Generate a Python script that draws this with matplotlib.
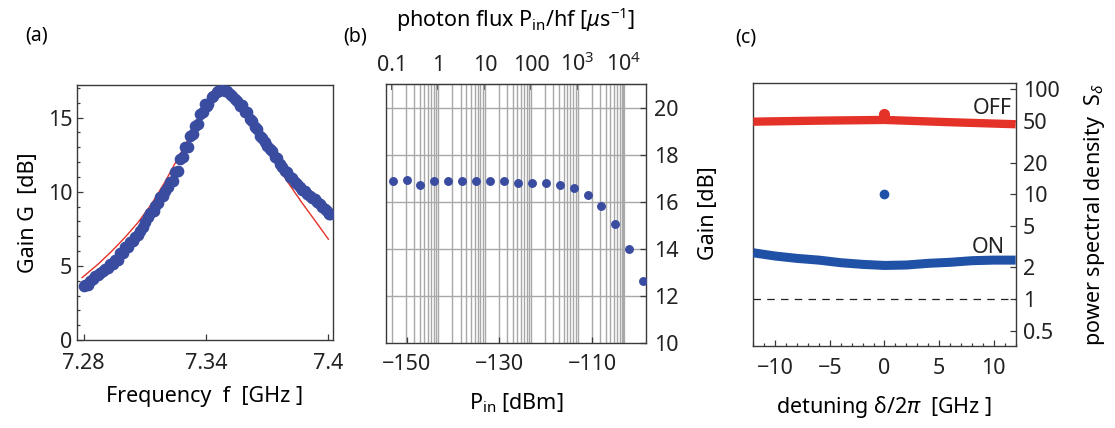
import numpy as np
import matplotlib
matplotlib.use("Agg")
import matplotlib.pyplot as plt
from matplotlib.ticker import FixedLocator, NullFormatter

plt.rcParams['font.family'] = ['Noto Sans', 'DejaVu Sans']
plt.rcParams['mathtext.fontset'] = 'custom'
plt.rcParams['mathtext.rm'] = 'Noto Sans'
plt.rcParams['mathtext.it'] = 'Noto Sans:italic'
plt.rcParams['axes.unicode_minus'] = True

# ---------------- data ----------------
# (a) gain vs frequency (read along the measured band)
freq_a = [7.2800, 7.2805, 7.2823, 7.2830, 7.2847, 7.2854, 7.2872, 7.2879, 7.2897, 7.2903,
          7.2921, 7.2928, 7.2946, 7.2952, 7.2970, 7.2977, 7.2995, 7.3002, 7.3020, 7.3026,
          7.3044, 7.3051, 7.3069, 7.3075, 7.3093, 7.3100, 7.3118, 7.3125, 7.3143, 7.3149,
          7.3167, 7.3174, 7.3192, 7.3198, 7.3216, 7.3223, 7.3241, 7.3248, 7.3265, 7.3272,
          7.3290, 7.3297, 7.3315, 7.3321, 7.3339, 7.3346, 7.3364, 7.3371, 7.3388, 7.3395,
          7.3405, 7.3413, 7.3430, 7.3438, 7.3454, 7.3462, 7.3479, 7.3495, 7.3503, 7.3520,
          7.3528, 7.3545, 7.3553, 7.3569, 7.3577, 7.3594, 7.3602, 7.3618, 7.3626, 7.3643,
          7.3651, 7.3667, 7.3676, 7.3692, 7.3700, 7.3717, 7.3725, 7.3741, 7.3749, 7.3766,
          7.3774, 7.3791, 7.3799, 7.3815, 7.3823, 7.3840, 7.3848, 7.3865, 7.3872, 7.3889,
          7.3897, 7.3914, 7.3922, 7.3938, 7.3946, 7.3963, 7.3971, 7.3987, 7.3995, 7.4004,
          7.4012]
gain_a = [3.65, 3.72, 3.72, 3.99, 4.10, 4.32, 4.39, 4.55, 4.66, 4.82,
          4.89, 5.11, 5.16, 5.38, 5.38, 5.90, 5.90, 6.24, 6.28, 6.58,
          6.69, 6.96, 7.09, 7.36, 7.59, 7.93, 8.27, 8.60, 8.72, 9.05,
          9.21, 9.62, 9.73, 10.07, 10.29, 10.63, 10.74, 11.30, 11.42, 12.21,
          12.32, 12.99, 13.04, 13.78, 13.90, 14.46, 14.57, 15.25, 15.36, 15.92,
          15.81, 15.92, 16.37, 16.49, 16.71, 16.78, 16.87, 16.82, 16.78, 16.60,
          16.49, 16.26, 16.15, 15.81, 15.88, 15.36, 15.36, 14.91, 14.80, 14.35,
          14.23, 13.78, 13.63, 13.33, 13.11, 12.88, 12.77, 12.36, 12.28, 11.87,
          11.69, 11.42, 11.30, 10.97, 10.90, 10.63, 10.52, 10.29, 10.11, 10.02,
          9.84, 9.73, 9.57, 9.51, 9.28, 9.17, 8.99, 8.83, 8.72, 8.49,
          8.49]
fit_f = [7.2792, 7.2870, 7.2936, 7.3002, 7.3067, 7.3133, 7.3198, 7.3256, 7.3320, 7.3380,
         7.3430, 7.3480, 7.3530, 7.3590, 7.3650, 7.3700, 7.3757, 7.3815, 7.3872, 7.3938,
         7.4003]
fit_g = [4.21, 5.11, 5.97, 6.91, 7.93, 9.17, 10.63, 12.09, 13.70, 15.30,
         16.40, 16.90, 16.60, 15.60, 14.20, 12.90, 11.60, 10.41, 9.28, 8.04,
         6.80]

# (b) gain vs input power
pin_b = [-153, -150, -147, -144, -141, -138, -135, -132, -129, -126,
         -123, -120, -117, -114, -111, -108, -105, -102, -99]
gain_b = [16.87, 16.91, 16.69, 16.87, 16.87, 16.87, 16.87, 16.87, 16.87, 16.81,
          16.81, 16.77, 16.70, 16.56, 16.27, 15.81, 15.03, 13.98, 12.62]
flux_ticks = [0.1, 1, 10, 100, 1e3, 1e4]
flux_labels = ['0.1', '1', '10', '100', '$10^3$', '$10^4$']

# (c) power spectral density vs detuning
det_c = [-12, -10, -8, -6, -4, -2, 0, 2, 4, 6, 8, 10, 12]
psd_on = [2.76, 2.57, 2.44, 2.35, 2.22, 2.14, 2.09, 2.11, 2.19, 2.24, 2.32, 2.35, 2.35]
det_off = [-12, -6, 0, 6, 12]
psd_off = [49.1, 50.2, 51.0, 48.5, 46.4]
dot_on = 10.0
dot_off = 58.0
psd_ticks = [0.5, 1, 2, 5, 10, 20, 50, 100]
psd_labels = ['0.5', '1', '2', '5', '10', '20', '50', '100']

# ---------------- figure ----------------
fig = plt.figure(figsize=(11.15, 4.28), dpi=100)
blue = '#3a4ca0'
blue_c = '#1f52a6'
red = '#e53228'
spine_c = '#3a3a3a'
fs = 15.5

def style(ax):
    for s in ax.spines.values():
        s.set_color(spine_c)
        s.set_linewidth(1.0)
    ax.tick_params(which='both', direction='in', colors=spine_c, labelcolor='#222222',
                   labelsize=fs, width=0.9)
    ax.tick_params(which='major', length=4)
    ax.tick_params(which='minor', length=2.5)

# (a)
axa = fig.add_axes([0.0691, 0.2056, 0.2296, 0.5958])
style(axa)
axa.plot(fit_f, fit_g, color=red, lw=1.0, zorder=2)
axa.plot(freq_a, gain_a, 'o', color=blue, ms=7.4, mec=blue, zorder=3)
axa.set_xlim(7.2767, 7.4026)
axa.set_ylim(0, 17.2)
axa.set_xticks([7.28, 7.34, 7.40])
axa.set_xticklabels(['7.28', '7.34', '7.4'])
axa.tick_params(axis='x', pad=9)
axa.set_yticks([0, 5, 10, 15])
axa.yaxis.set_minor_locator(FixedLocator(np.arange(0, 18, 1)))
axa.set_xlabel('Frequency  f  [GHz ]', fontsize=fs, labelpad=9)
axa.set_ylabel('Gain G  [dB]', fontsize=fs, labelpad=6)
fig.text(0.0224, 0.916, '(a)', fontsize=14, va='center')

# (b)
hf = 6.626e-34 * 7.34e9
def p2flux(p):
    return 10 ** ((np.asarray(p, dtype=float) - 30) / 10) / hf * 1e-6
def flux2p(fl):
    fl = np.clip(np.asarray(fl, dtype=float), 1e-30, None)
    return 10 * np.log10(fl * 1e6 * hf) + 30

axb = fig.add_axes([0.3459, 0.1993, 0.2335, 0.6044])
style(axb)
axb.set_xlim(-154.5, -98.4)
axb.set_ylim(10, 21)
for n in range(-1, 4):
    for k in range(1, 10):
        axb.axvline(flux2p(k * 10.0 ** n), color='#a8a8a8', lw=1.0, zorder=1)
axb.axvline(flux2p(1e4), color='#a8a8a8', lw=1.6, zorder=1)
for g in [12, 14, 16, 18, 20]:
    axb.axhline(g, color='#a8a8a8', lw=1.0, zorder=1)
axb.plot(pin_b, gain_b, 'o', color=blue, ms=5.4, mec=blue, zorder=3)
axb.set_xticks([-150, -130, -110])
axb.tick_params(axis='x', pad=8)
axb.yaxis.tick_right()
axb.yaxis.set_label_position('right')
axb.set_yticks([10, 12, 14, 16, 18, 20])
axb.tick_params(axis='y', which='both', left=False, right=True, pad=6)
axb.set_xlabel('P$_{\\rm in}$ [dBm]', fontsize=fs, labelpad=12)
axb.set_ylabel('Gain [dB]', fontsize=fs, labelpad=14)
sec = axb.secondary_xaxis('top', functions=(p2flux, flux2p))
sec.set_xscale('log')
sec.set_xticks(flux_ticks)
sec.set_xticklabels(flux_labels)
sec.xaxis.set_minor_locator(FixedLocator([]))
sec.xaxis.set_minor_formatter(NullFormatter())
sec.tick_params(direction='in', length=4, width=1.2, colors='#222222', labelsize=fs, pad=6)
sec.spines['top'].set_color(spine_c)
sec.set_xlabel('photon flux P$_{\\rm in}$/hf [$\\mu$s$^{-1}$]', fontsize=fs, labelpad=18)
fig.text(0.3076, 0.914, '(b)', fontsize=14, va='center')

# (c)
axc = fig.add_axes([0.6756, 0.1923, 0.2353, 0.6131])
style(axc)
axc.set_yscale('log')
axc.set_xlim(-12, 12)
axc.set_ylim(0.359, 114)
axc.axhline(1, color='#222222', lw=0.9, ls=(0, (6, 5)))
axc.plot(det_off, psd_off, color=red, lw=6, solid_capstyle='butt', zorder=3)
axc.plot(det_c, psd_on, color=blue_c, lw=6.5, solid_capstyle='butt', zorder=3)
axc.plot([0], [dot_off], 'o', color=red, ms=7, zorder=4)
axc.plot([0], [dot_on], 'o', color=blue_c, ms=6, zorder=4)
axc.text(9.9, 66, 'OFF', fontsize=fs, ha='center', va='center', color='#222222')
axc.text(9.5, 3.13, 'ON', fontsize=fs, ha='center', va='center', color='#222222')
axc.set_xticks([-10, -5, 0, 5, 10])
axc.tick_params(axis='x', pad=9)
axc.xaxis.set_minor_locator(FixedLocator(np.arange(-12, 13, 1)))
axc.yaxis.tick_right()
axc.yaxis.set_label_position('right')
axc.yaxis.set_major_locator(FixedLocator(psd_ticks))
axc.set_yticklabels(psd_labels)
axc.yaxis.set_minor_locator(FixedLocator([]))
axc.tick_params(axis='y', which='both', left=False, right=True, pad=5)
axc.set_xlabel('detuning δ/2$\\pi$  [GHz ]', fontsize=fs, labelpad=11)
axc.set_ylabel('power spectral density  S$_{\\delta}$', fontsize=fs, labelpad=16)
fig.text(0.659, 0.912, '(c)', fontsize=14, va='center')

fig.savefig('out.png', dpi=100)
